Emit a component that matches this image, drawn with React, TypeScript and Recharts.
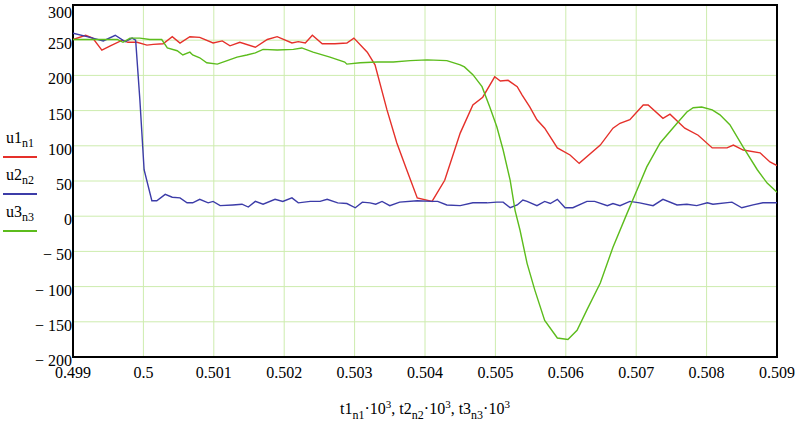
import React from 'react';
import { LineChart, Line, XAxis, YAxis, CartesianGrid, ReferenceArea } from 'recharts';

// time axis values (t * 10^3) and voltages
const t1 = [
  0.499, 0.49918, 0.49928, 0.49941, 0.49953, 0.4997, 0.49978, 0.49991, 0.50005, 0.50014,
  0.50028, 0.50041, 0.50052, 0.50066, 0.5008, 0.50099, 0.50112, 0.50123, 0.50137, 0.50159,
  0.50176, 0.5019, 0.50211, 0.5022, 0.5023, 0.5024, 0.50254, 0.50272, 0.50289, 0.50299,
  0.50318, 0.50329, 0.50346, 0.5036, 0.50374, 0.50389, 0.5041, 0.50428, 0.5045, 0.50468,
  0.50482, 0.50499, 0.50507, 0.50518, 0.50531, 0.50538, 0.50549, 0.50559, 0.5057, 0.50588,
  0.50606, 0.50619, 0.50649, 0.50667, 0.50677, 0.50691, 0.5071, 0.50717, 0.50738, 0.50748,
  0.50769, 0.50788, 0.50808, 0.50829, 0.50838, 0.50852, 0.50876, 0.5089, 0.509,
];
const u1 = [
  251, 257, 253, 236, 242, 250, 247, 247, 243, 244,
  245, 255, 246, 255, 254, 246, 249, 242, 247, 240,
  251, 255, 246, 248, 246, 257, 245, 245, 246, 253,
  233, 215, 151, 104, 66, 26, 21, 51, 118, 158,
  169, 198, 192, 193, 184, 172, 155, 137, 125, 97,
  87, 75, 101, 125, 132, 137, 158, 158, 139, 145,
  125, 115, 97, 97, 101, 94, 90, 77, 72,
];

const t2 = [
  0.499, 0.4992, 0.49943, 0.4996, 0.49974, 0.49984, 0.49989, 0.49995, 0.50001, 0.50012,
  0.50019, 0.50031, 0.50041, 0.50052, 0.50062, 0.5007, 0.5008, 0.50092, 0.50099, 0.50109,
  0.50127, 0.5014, 0.50149, 0.50159, 0.5017, 0.50187, 0.50198, 0.50211, 0.5022, 0.50237,
  0.50251, 0.50261, 0.50276, 0.50289, 0.50301, 0.50311, 0.50322, 0.5033, 0.50339, 0.5035,
  0.50364, 0.50389, 0.5041, 0.50418, 0.50431, 0.5045, 0.50468, 0.50488, 0.50502, 0.50511,
  0.50521, 0.50531, 0.50539, 0.50545, 0.50559, 0.5057, 0.50578, 0.50588, 0.50599, 0.5061,
  0.5063, 0.50641, 0.50659, 0.50667, 0.50677, 0.50691, 0.50705, 0.50724, 0.50738, 0.50758,
  0.50772, 0.50786, 0.50801, 0.50809, 0.50836, 0.5085, 0.50866, 0.5088, 0.509,
];
const u2 = [
  260, 255, 249, 257, 248, 253, 250, 165, 66, 22,
  22, 31, 27, 26, 19, 19, 24, 19, 21, 15,
  16, 17, 13, 21, 17, 24, 21, 26, 19, 21,
  21, 24, 19, 18, 12, 20, 19, 17, 21, 15,
  20, 22, 21, 21, 16, 15, 19, 19, 20, 20,
  12, 16, 23, 21, 15, 21, 18, 24, 12, 12,
  21, 21, 15, 18, 15, 21, 19, 15, 24, 16,
  17, 15, 19, 17, 20, 12, 16, 19, 19,
];

const t3 = [
  0.499, 0.49938, 0.49963, 0.49971, 0.49981, 0.49995, 0.50009, 0.50026, 0.50034, 0.50048,
  0.50056, 0.50066, 0.5007, 0.5008, 0.5009, 0.50105, 0.50119, 0.50133, 0.50147, 0.50159,
  0.5017, 0.5019, 0.50213, 0.50225, 0.50241, 0.50265, 0.50286, 0.50289, 0.50308, 0.50332,
  0.50355, 0.50379, 0.50403, 0.50431, 0.5045, 0.50456, 0.50468, 0.50481, 0.50492, 0.50502,
  0.50511, 0.50521, 0.50528, 0.50535, 0.50545, 0.50556, 0.5057, 0.50588, 0.50603, 0.50616,
  0.5063, 0.50649, 0.50667, 0.50687, 0.50701, 0.50715, 0.50734, 0.50758, 0.50772, 0.50781,
  0.50793, 0.50808, 0.50819, 0.50833, 0.50852, 0.50872, 0.50886, 0.509,
];
const u3 = [
  251, 251, 251, 247, 253, 253, 251, 251, 239, 235,
  229, 233, 229, 225, 218, 216, 221, 226, 229, 232,
  237, 236, 237, 239, 233, 226, 219, 216, 218, 219,
  219, 221, 222, 221, 215, 212, 201, 184, 155, 127,
  94, 51, 8, -20, -67, -105, -148, -173, -175, -162,
  -133, -95, -44, 4, 37, 70, 104, 132, 148, 154,
  155, 151, 144, 130, 98, 66, 47, 34,
];

const xTicks = [0.499, 0.5, 0.501, 0.502, 0.503, 0.504, 0.505, 0.506, 0.507, 0.508, 0.509];
const yTicks = [-200, -150, -100, -50, 0, 50, 100, 150, 200, 250, 300];

const series = [
  { name: 'u1', sub: 'n1', color: '#e5302a', data: t1.map((t, i) => ({ t, u: u1[i] })) },
  { name: 'u2', sub: 'n2', color: '#3c3ca8', data: t2.map((t, i) => ({ t, u: u2[i] })) },
  { name: 'u3', sub: 'n3', color: '#5cbc1c', data: t3.map((t, i) => ({ t, u: u3[i] })) },
];

const font = 'Liberation Serif';

const YTick = (props: any) => {
  const { x, y, payload } = props;
  const v = payload.value;
  const label = v < 0 ? `\u2212 ${Math.abs(v)}` : `${v}`;
  return (
    <g>
      <text x={x - 1} y={y + 9} textAnchor="end" fontSize={16} fontFamily={font} fill="#000">
        {label}
      </text>
    </g>
  );
};

const XTick = (props: any) => {
  const { x, y, payload } = props;
  return (
    <g>
      <text x={x} y={y + 21} textAnchor="middle" fontSize={16} fontFamily={font} fill="#000">
        {String(payload.value)}
      </text>
    </g>
  );
};

const legendTop = [129, 166, 203];

export default function App() {
  return (
    <div style={{ position: 'absolute', left: 0, top: 0, width: 800, height: 421, background: '#fff', fontFamily: font }}>
      <LineChart
        width={800}
        height={421}
        margin={{ top: 5, right: 23, bottom: 0, left: 0 }}
        style={{ fontFamily: font }}
      >
        <CartesianGrid stroke="#cdecae" strokeWidth={1} horizontal vertical />
        <XAxis
          dataKey="t"
          type="number"
          domain={[0.499, 0.509]}
          ticks={xTicks}
          allowDataOverflow
          height={64}
          tickSize={0}
          tickMargin={0}
          axisLine={false}
          tick={XTick}
        />
        <YAxis
          type="number"
          domain={[-200, 300]}
          ticks={yTicks}
          allowDataOverflow
          width={73}
          tickSize={0}
          tickMargin={0}
          axisLine={false}
          tick={YTick}
        />
        {series.map((s) => (
          <Line
            key={s.name}
            data={s.data}
            dataKey="u"
            type="linear"
            stroke={s.color}
            strokeWidth={1.4}
            dot={false}
            isAnimationActive={false}
          />
        ))}
        <ReferenceArea x1={0.499} x2={0.509} y1={-200} y2={300} fill="none" stroke="#000" strokeWidth={2} />
      </LineChart>

      {series.map((s, i) => (
        <div key={s.name} style={{ position: 'absolute', left: 3, top: legendTop[i], width: 34 }}>
          <div style={{ fontSize: 16, lineHeight: '18px', paddingLeft: 3, color: '#000', whiteSpace: 'nowrap' }}>
            {s.name}
            <sub style={{ fontSize: 12 }}>{s.sub}</sub>
          </div>
          <div style={{ height: 2, background: s.color, marginTop: 4 }} />
        </div>
      ))}

      <div
        style={{
          position: 'absolute',
          left: 225,
          width: 400,
          top: 395,
          textAlign: 'center',
          fontSize: 16,
          lineHeight: '18px',
          color: '#000',
          whiteSpace: 'nowrap',
        }}
      >
        t1<sub style={{ fontSize: 12 }}>n1</sub>&middot;10<sup style={{ fontSize: 11 }}>3</sup>, t2
        <sub style={{ fontSize: 12 }}>n2</sub>&middot;10<sup style={{ fontSize: 11 }}>3</sup>, t3
        <sub style={{ fontSize: 12 }}>n3</sub>&middot;10<sup style={{ fontSize: 11 }}>3</sup>
      </div>
    </div>
  );
}
